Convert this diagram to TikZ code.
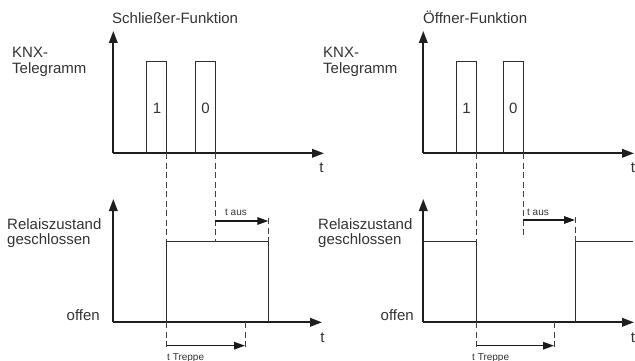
\documentclass[tikz,border=0pt]{standalone}
\usepackage{fontspec}
\setmainfont{Liberation Sans}
\usetikzlibrary{arrows.meta}
\begin{document}
\begin{tikzpicture}[x=1pt,y=-1pt,
  axis/.style={line width=2pt,draw=black!88,-{Triangle[length=12pt,width=8.5pt]}},
  sig/.style={line width=0.9pt,draw=black!82},
  guide/.style={line width=0.9pt,draw=black!75,dash pattern=on 6pt off 3.5pt},
  dur/.style={line width=1.5pt,draw=black!90,-{Triangle[length=11pt,width=7.5pt]}},
  lbl/.style={font=\fontsize{15}{16}\selectfont,inner sep=0pt,text=black!80},
  small/.style={font=\fontsize{10}{11}\selectfont,inner sep=0pt,text=black!80}
]
\useasboundingbox (0,0) rectangle (635,361);
% ---------------- left: Schliesser ----------------
\coordinate (LUo) at (113.3,153.3);
\coordinate (LUy) at (113.3,31);
\coordinate (LUx) at (324,153.3);
\draw[axis] (LUo) -- (LUy);
\draw[axis] (LUo) -- (LUx);
\coordinate (LP1a) at (146.7,153.3); \coordinate (LP1b) at (166.7,153.3);
\coordinate (LP2a) at (195.7,153.3); \coordinate (LP2b) at (215,153.3);
\draw[sig] (LP1a) -- ++(0,-92.3) -| (LP1b);
\draw[sig] (LP2a) -- ++(0,-92.3) -| (LP2b);
\node[lbl] (L1) at (157,108) {1};
\node[lbl] (L0) at (205.5,108) {0};
\node[lbl,anchor=base west] (LT) at (112,24) {Schließer-Funktion};
\node[lbl,anchor=base west] (LK1) at (12,58) {KNX-};
\node[lbl,anchor=base west] (LK2) at (12,74) {Telegramm};
\node[lbl] (Lt1) at (321.5,167.5) {t};

\coordinate (LLo) at (113.3,322.3);
\coordinate (LLy) at (113.3,199);
\coordinate (LLx) at (322,322.3);
\draw[axis] (LLo) -- (LLy);
\draw[axis] (LLo) -- (LLx);
\coordinate (LRa) at (166.7,322.3); \coordinate (LRat) at (166.7,241.7);
\coordinate (LRb) at (268.3,322.3); \coordinate (LRbt) at (268.3,241.7);
\draw[sig] (LRa) -- (LRat) -- (LRbt) -- (LRb);
\coordinate (LD2t) at (215,241.7);
\draw[guide] (LP1b) -- (LRat);
\draw[guide] (LP2b) -- (LD2t);
\coordinate (LD3) at (268.3,218);
\draw[guide] (LD3) -- (LRbt);
\coordinate (LDa) at (166.7,347); \coordinate (LDb) at (245,322.3); \coordinate (LDbb) at (245,347);
\draw[guide] (LRa) -- (LDa);
\draw[guide] (LDb) -- (LDbb);
\coordinate (LA1s) at (215,221); \coordinate (LA1e) at (268.3,221);
\draw[dur] (LA1s) -- (LA1e);
\coordinate (LA2s) at (166.7,345.7); \coordinate (LA2e) at (245,345.7);
\draw[dur] (LA2s) -- (LA2e);
\node[small,anchor=base] (Ltaus) at (236,215.5) {t aus};
\node[small,anchor=base west] (Ltrep) at (167,360) {t Treppe};
\node[lbl,anchor=base west] (LR1) at (7,229) {Relaiszustand};
\node[lbl,anchor=base west] (LR2) at (7,244) {geschlossen};
\node[lbl,anchor=base east] (Loff) at (100,320) {offen};
\node[lbl] (Lt2) at (322.5,338) {t};

% ---------------- right: Oeffner ----------------
\coordinate (RUo) at (423.3,153.3);
\coordinate (RUy) at (423.3,31);
\coordinate (RUx) at (634,153.3);
\draw[axis] (RUo) -- (RUy);
\draw[axis] (RUo) -- (RUx);
\coordinate (RP1a) at (456.7,153.3); \coordinate (RP1b) at (476.7,153.3);
\coordinate (RP2a) at (503.3,153.3); \coordinate (RP2b) at (523.3,153.3);
\draw[sig] (RP1a) -- ++(0,-92.3) -| (RP1b);
\draw[sig] (RP2a) -- ++(0,-92.3) -| (RP2b);
\node[lbl] (R1) at (466.5,108) {1};
\node[lbl] (R0) at (513.3,108) {0};
\node[lbl,anchor=base west] (RT) at (423,24) {Öffner-Funktion};
\node[lbl,anchor=base west] (RK1) at (323,58) {KNX-};
\node[lbl,anchor=base west] (RK2) at (323,74) {Telegramm};
\node[lbl] (Rt1) at (633,167.5) {t};

\coordinate (RLo) at (423.3,322.3);
\coordinate (RLy) at (423.3,199);
\coordinate (RLx) at (634,322.3);
\draw[axis] (RLo) -- (RLy);
\draw[axis] (RLo) -- (RLx);
\coordinate (RRs) at (423.3,241.7);
\coordinate (RRat) at (476.7,241.7); \coordinate (RRa) at (476.7,322.3);
\coordinate (RRb) at (575,322.3); \coordinate (RRbt) at (575,241.7);
\coordinate (RRe) at (633,241.7);
\draw[sig] (RRs) -- (RRat) -- (RRa);
\draw[sig] (RRb) -- (RRbt) -- (RRe);
\coordinate (RD2t) at (523.3,236.7);
\draw[guide] (RP1b) -- (RRat);
\draw[guide] (RP2b) -- (RD2t);
\coordinate (RD3) at (575,217);
\draw[guide] (RD3) -- (RRbt);
\coordinate (RDa) at (476.7,347); \coordinate (RDb) at (554,322.3); \coordinate (RDbb) at (554,347);
\draw[guide] (RRa) -- (RDa);
\draw[guide] (RDb) -- (RDbb);
\coordinate (RA1s) at (523.3,220); \coordinate (RA1e) at (575,220);
\draw[dur] (RA1s) -- (RA1e);
\coordinate (RA2s) at (476.7,345.7); \coordinate (RA2e) at (554,345.7);
\draw[dur] (RA2s) -- (RA2e);
\node[small,anchor=base] (Rtaus) at (538,215) {t aus};
\node[small,anchor=base west] (Rtrep) at (472,360) {t Treppe};
\node[lbl,anchor=base west] (RR1) at (318,229) {Relaiszustand};
\node[lbl,anchor=base west] (RR2) at (318,244) {geschlossen};
\node[lbl,anchor=base east] (Roff) at (414,320) {offen};
\node[lbl] (Rt2) at (633,338) {t};
\end{tikzpicture}
\end{document}
